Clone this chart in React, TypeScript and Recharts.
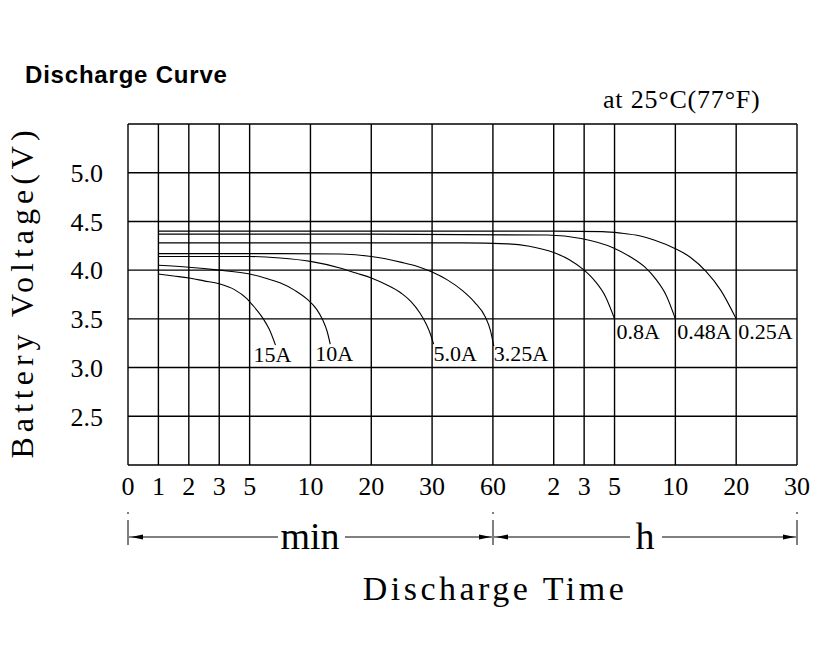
import React from 'react';
import { LineChart, Line, XAxis, YAxis, CartesianGrid } from 'recharts';

// Broken time axis: minutes 0..60 then hours 1..30, as evenly divided axis units
const xTickPositions = [0, 1, 2, 3, 4, 6, 8, 10, 12, 14, 15, 16, 18, 20, 22];
const xTickLabels = ['0', '1', '2', '3', '5', '10', '20', '30', '60', '2', '3', '5', '10', '20', '30'];
const yTicks = [2, 2.5, 3, 3.5, 4, 4.5, 5, 5.5];
const yTickLabels = ['', '2.5', '3.0', '3.5', '4.0', '4.5', '5.0', ''];

const seriesNames = ['15A', '10A', '5.0A', '3.25A', '0.8A', '0.48A', '0.25A'];

const t15 = [1, 1.5, 2, 2.5, 3, 3.5, 3.9, 4.1, 4.25, 4.45, 4.65, 4.85];
const v15 = [3.96, 3.94, 3.92, 3.89, 3.86, 3.8, 3.71, 3.64, 3.585, 3.5, 3.39, 3.23];

const t10 = [1, 2, 3, 4, 4.5, 5, 5.5, 5.9, 6.2, 6.4, 6.55, 6.65];
const v10 = [4.05, 4.03, 4.0, 3.96, 3.92, 3.87, 3.79, 3.7, 3.6, 3.49, 3.37, 3.24];

const t5 = [1, 3, 4, 5, 6, 7, 7.5, 8, 8.5, 9, 9.3, 9.6, 9.8, 9.95, 10.05];
const v5 = [4.14, 4.14, 4.14, 4.125, 4.09, 4.02, 3.97, 3.92, 3.85, 3.76, 3.68, 3.56, 3.45, 3.34, 3.24];

const t325 = [1, 5, 7, 8, 9, 9.5, 10, 10.5, 11, 11.4, 11.75, 11.92, 12.03];
const v325 = [4.17, 4.17, 4.165, 4.14, 4.08, 4.04, 3.98, 3.9, 3.79, 3.67, 3.52, 3.38, 3.22];

const t08 = [1, 11, 12.5, 13.2, 14, 14.5, 15, 15.35, 15.7, 16];
const v08 = [4.28, 4.28, 4.27, 4.245, 4.18, 4.11, 4.0, 3.89, 3.73, 3.5];

const t048 = [1, 8, 13.8, 14.9, 15.95, 16.5, 17, 17.35, 17.7, 18];
const v048 = [4.37, 4.37, 4.36, 4.325, 4.23, 4.14, 4.03, 3.91, 3.74, 3.5];

const t025 = [1, 14, 15.6, 16.2, 16.85, 17.3, 18, 18.5, 19, 19.5, 20];
const v025 = [4.4, 4.4, 4.395, 4.38, 4.35, 4.31, 4.22, 4.13, 3.99, 3.79, 3.5];

const seriesT = [t15, t10, t5, t325, t08, t048, t025];
const seriesV = [v15, v10, v5, v325, v08, v048, v025];

// label placement (style) relative to each curve's end point
const labelDx = [-22, -15, 0, 0, 2, 2, 2];
const labelDy = [17, 17, 17, 15, 20, 20, 20];

const serif = 'Liberation Serif, Times New Roman, serif';

const W = 814;
const H = 634;

function makeLabel(i: number, lastIndex: number) {
  return (props: any) => {
    if (props.index !== lastIndex) return null;
    return (
      <text
        x={props.x + labelDx[i]}
        y={props.y + labelDy[i]}
        fontFamily={serif}
        fontSize={22}
        fill="#000"
        textAnchor="start"
      >
        {seriesNames[i]}
      </text>
    );
  };
}

function Arrow({ tipX, y, dir }: { tipX: number; y: number; dir: number }) {
  const len = 12;
  const half = 2.5;
  const bx = tipX + dir * len;
  return <polygon points={`${tipX},${y} ${bx},${y - half} ${bx},${y + half}`} fill="#000" />;
}

export default function App() {
  const datasets = seriesT.map((ts, i) => ts.map((t, j) => ({ t, v: seriesV[i][j] })));
  const ay = 529;
  return (
    <div style={{ position: 'relative', width: W, height: H }}>
      <LineChart width={W} height={H} margin={{ top: 116, right: 25, bottom: 147, left: 0 }}>
        <CartesianGrid stroke="#000" strokeWidth={1.4} />
        <XAxis
          type="number"
          dataKey="t"
          domain={[0, 22]}
          ticks={xTickPositions}
          interval={0}
          allowDataOverflow
          tickFormatter={(v: number) => xTickLabels[xTickPositions.indexOf(v)]}
          axisLine={false}
          tickLine={false}
          tickSize={0}
          tickMargin={12}
          height={30}
          tick={{ fill: '#000', fontSize: 26, fontFamily: serif }}
        />
        <YAxis
          type="number"
          dataKey="v"
          domain={[2, 5.5]}
          ticks={yTicks}
          interval={0}
          allowDataOverflow
          tickFormatter={(v: number) => yTickLabels[yTicks.indexOf(v)]}
          axisLine={false}
          tickLine={false}
          tickSize={0}
          tickMargin={25}
          width={120}
          tick={{ fill: '#000', fontSize: 26, fontFamily: serif }}
        />
        {datasets.map((d, i) => (
          <Line
            key={seriesNames[i]}
            data={d}
            dataKey="v"
            type="monotone"
            stroke="#000"
            strokeWidth={1.1}
            dot={false}
            isAnimationActive={false}
            label={makeLabel(i, d.length - 1)}
          />
        ))}
      </LineChart>
      <svg
        width={830}
        height={650}
        style={{ position: 'absolute', left: -8, top: -8, pointerEvents: 'none' }}
      >
        <g transform="translate(8,8)">
          <text x={17} y={75} fontFamily="Liberation Sans, Arial, sans-serif" fontWeight="bold" fontSize={24} letterSpacing={0.8} fill="#000">
            Discharge Curve
          </text>
          <text x={595} y={100} fontFamily={serif} fontSize={26} letterSpacing={0.8} fill="#000">
            at 25°C(77°F)
          </text>
          <text
            x={25}
            y={284}
            transform="rotate(-90, 25, 284)"
            textAnchor="middle"
            fontFamily={serif}
            fontSize={32}
            letterSpacing={5}
            fill="#000"
          >
            Battery Voltage(V)
          </text>
          <text x={487} y={592} textAnchor="middle" fontFamily={serif} fontSize={34} letterSpacing={3.5} fill="#000">
            Discharge Time
          </text>
          {[120, 485, 789].map((x) => (
            <g key={x}>
              <line x1={x} y1={504} x2={x} y2={506} stroke="#000" strokeWidth={1} />
              <line x1={x} y1={512} x2={x} y2={537} stroke="#000" strokeWidth={1} />
            </g>
          ))}
          <line x1={121} y1={ay} x2={270} y2={ay} stroke="#000" strokeWidth={1} />
          <line x1={337} y1={ay} x2={484} y2={ay} stroke="#000" strokeWidth={1} />
          <line x1={486} y1={ay} x2={622} y2={ay} stroke="#000" strokeWidth={1} />
          <line x1={654} y1={ay} x2={788} y2={ay} stroke="#000" strokeWidth={1} />
          <Arrow tipX={123} y={ay} dir={1} />
          <Arrow tipX={483} y={ay} dir={-1} />
          <Arrow tipX={488} y={ay} dir={1} />
          <Arrow tipX={787} y={ay} dir={-1} />
          <text x={302} y={541} textAnchor="middle" fontFamily={serif} fontSize={38} fill="#000">
            min
          </text>
          <text x={637} y={541} textAnchor="middle" fontFamily={serif} fontSize={38} fill="#000">
            h
          </text>
        </g>
      </svg>
    </div>
  );
}
